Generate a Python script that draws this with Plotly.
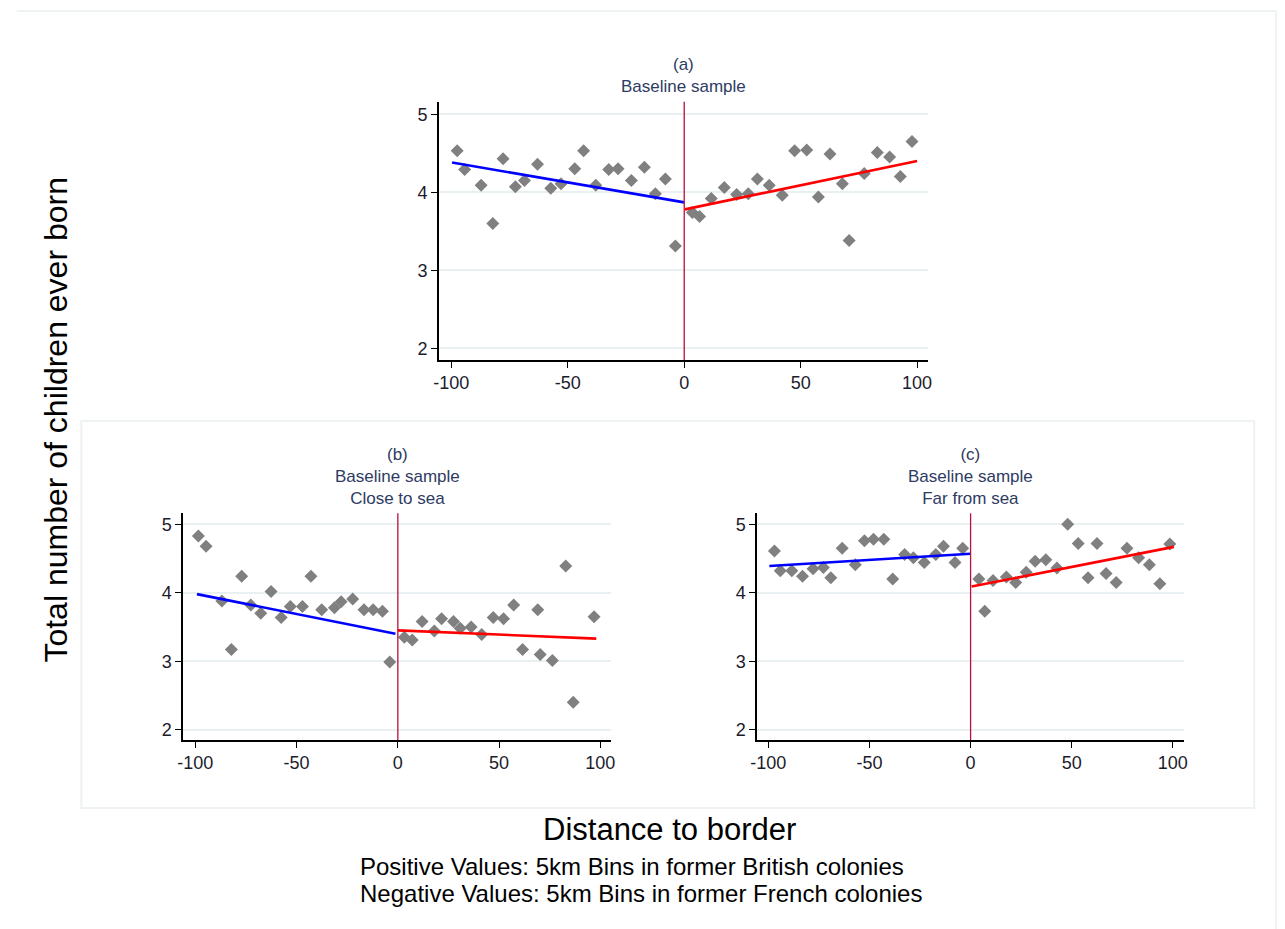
import plotly.graph_objects as go

# ---------------- data ----------------
# Panel (a) Baseline sample
a_left_x = [-97.5, -94.3, -87.2, -82.2, -77.8, -72.5, -68.6, -63.0, -57.3, -52.9,
            -47.0, -43.2, -38.0, -32.4, -28.4, -22.7, -17.1, -12.4, -8.1, -3.8]
a_left_y = [4.53, 4.29, 4.09, 3.60, 4.43, 4.07, 4.15, 4.36, 4.05, 4.11,
            4.30, 4.53, 4.09, 4.29, 4.30, 4.15, 4.32, 3.98, 4.17, 3.31]
a_right_x = [3.5, 6.6, 11.6, 17.2, 22.5, 27.5, 31.4, 36.5, 42.1, 47.4,
             52.6, 57.6, 62.6, 67.9, 70.8, 77.3, 82.9, 88.2, 92.8, 97.8]
a_right_y = [3.74, 3.69, 3.92, 4.06, 3.97, 3.98, 4.17, 4.09, 3.96, 4.53,
             4.54, 3.94, 4.49, 4.11, 3.38, 4.24, 4.51, 4.45, 4.20, 4.65]
a_fit_left_x, a_fit_left_y = [-99.7, 0.0], [4.38, 3.87]
a_fit_right_x, a_fit_right_y = [0.3, 100.0], [3.78, 4.40]

# Panel (b) Close to sea
b_left_x = [-98.5, -94.7, -86.9, -82.2, -77.1, -72.6, -67.7, -62.6, -57.6, -53.1,
            -47.1, -42.9, -37.6, -31.3, -28.0, -22.3, -16.7, -12.2, -7.6, -4.0]
b_left_y = [4.83, 4.68, 3.88, 3.17, 4.24, 3.82, 3.70, 4.02, 3.64, 3.80,
            3.80, 4.24, 3.75, 3.78, 3.87, 3.91, 3.75, 3.75, 3.73, 2.99]
b_right_x = [3.2, 7.1, 12.0, 18.0, 21.6, 27.5, 30.8, 36.2, 41.4, 47.1,
             52.2, 57.2, 61.6, 69.1, 70.3, 76.3, 82.9, 86.6, 96.9]
b_right_y = [3.35, 3.31, 3.58, 3.44, 3.62, 3.58, 3.48, 3.50, 3.39, 3.64,
             3.62, 3.82, 3.17, 3.75, 3.10, 3.01, 4.39, 2.40, 3.65]
b_fit_left_x, b_fit_left_y = [-99.2, -1.2], [3.98, 3.40]
b_fit_right_x, b_fit_right_y = [0.0, 98.0], [3.45, 3.33]

# Panel (c) Far from sea
c_left_x = [-97.0, -94.1, -88.4, -83.1, -77.9, -72.8, -69.1, -63.5, -57.0, -52.5,
            -48.0, -42.9, -38.5, -32.6, -28.3, -22.9, -17.2, -13.4, -7.7, -3.9]
c_left_y = [4.61, 4.32, 4.32, 4.24, 4.35, 4.37, 4.22, 4.65, 4.41, 4.76,
            4.78, 4.78, 4.20, 4.56, 4.51, 4.44, 4.56, 4.68, 4.44, 4.65]
c_right_x = [4.1, 7.0, 11.1, 17.7, 22.3, 27.5, 31.9, 37.2, 42.7, 48.0,
             53.2, 58.1, 62.5, 67.0, 72.0, 77.3, 83.1, 88.4, 93.6, 98.5]
c_right_y = [4.20, 3.73, 4.18, 4.23, 4.15, 4.30, 4.46, 4.48, 4.36, 5.00,
             4.72, 4.22, 4.72, 4.28, 4.15, 4.65, 4.51, 4.41, 4.13, 4.71]
c_fit_left_x, c_fit_left_y = [-99.5, 0.0], [4.39, 4.57]
c_fit_right_x, c_fit_right_y = [0.5, 100.5], [4.09, 4.67]

x_ticks = [-100, -50, 0, 50, 100]
x_tick_labels = ["-100", "-50", "0", "50", "100"]
y_ticks = [2, 3, 4, 5]
y_tick_labels = ["2", "3", "4", "5"]

panel_titles = {
    "a": ["(a)", "Baseline sample"],
    "b": ["(b)", "Baseline sample", "Close to sea"],
    "c": ["(c)", "Baseline sample", "Far from sea"],
}
y_title = "Total number of children ever born"
x_title = "Distance to border"
notes = ["Positive Values: 5km Bins in former British colonies",
         "Negative Values: 5km Bins in former French colonies"]

# ---------------- layout constants ----------------
W, H = 1285, 929
FONT = "Liberation Sans, Arial, sans-serif"
MARK = "#808080"
VLINE = "#b8103c"
GRID = "#e8f0f2"
TITLE_C = "#2e3b63"
TICK_C = "#1c1c2c"


def px(x):
    return x / W


def py(y):
    return 1 - y / H


panels = [
    ("a", "", (435.5, 929), (101.7, 360), (-105.4, 104.7),
     (a_left_x, a_left_y, a_right_x, a_right_y,
      a_fit_left_x, a_fit_left_y, a_fit_right_x, a_fit_right_y),
     98),
    ("b", "2", (177.7, 609.3), (513.3, 740), (-106.0, 105.3),
     (b_left_x, b_left_y, b_right_x, b_right_y,
      b_fit_left_x, b_fit_left_y, b_fit_right_x, b_fit_right_y),
     510),
    ("c", "3", (756.7, 1186.7), (513.3, 740), (-105.5, 105.3),
     (c_left_x, c_left_y, c_right_x, c_right_y,
      c_fit_left_x, c_fit_left_y, c_fit_right_x, c_fit_right_y),
     510),
]

fig = go.Figure()
annotations = []
shapes = []
layout_axes = {}

for key, sfx, xd, yd, xr, data, title_bottom in panels:
    lx, ly, rx, ry, flx, fly, frx, fry = data
    xa = "x" + sfx
    ya = "y" + sfx
    for xs, ys in ((lx, ly), (rx, ry)):
        fig.add_trace(go.Scatter(x=xs, y=ys, mode="markers", xaxis=xa, yaxis=ya,
                                 marker=dict(symbol="diamond", size=10, color=MARK),
                                 showlegend=False, hoverinfo="x+y"))
    fig.add_trace(go.Scatter(x=flx, y=fly, mode="lines", xaxis=xa, yaxis=ya,
                             line=dict(color="#0000ff", width=2.6), showlegend=False))
    fig.add_trace(go.Scatter(x=frx, y=fry, mode="lines", xaxis=xa, yaxis=ya,
                             line=dict(color="#ff0000", width=2.6), showlegend=False))

    layout_axes["xaxis" + sfx] = dict(
        domain=[px(xd[0]), px(xd[1])], range=list(xr), anchor=ya,
        tickvals=x_ticks, ticktext=x_tick_labels, ticks="outside", ticklen=6,
        tickwidth=1, tickcolor="black",
        showline=True, linecolor="black", linewidth=1.5, showgrid=False, zeroline=False,
        tickfont=dict(family=FONT, size=18, color=TICK_C),
    )
    layout_axes["yaxis" + sfx] = dict(
        domain=[py(yd[1]), py(yd[0])], range=[1.85, 5.16], anchor=xa,
        tickvals=y_ticks, ticktext=y_tick_labels, ticks="outside", ticklen=6,
        tickwidth=1, tickcolor="black",
        showline=True, linecolor="black", linewidth=1.5, showgrid=True,
        gridcolor=GRID, gridwidth=1.5, zeroline=False,
        tickfont=dict(family=FONT, size=18, color=TICK_C),
    )
    shapes.append(dict(type="line", xref=xa, yref=ya + " domain", x0=0, x1=0, y0=0, y1=1,
                       line=dict(color=VLINE, width=1.3), layer="above"))
    cx = px((xd[0] + xd[1]) / 2)
    annotations.append(dict(text="<br>".join(panel_titles[key]), x=cx, y=py(title_bottom),
                            xref="paper", yref="paper", xanchor="center", yanchor="bottom",
                            align="center", showarrow=False,
                            font=dict(family=FONT, size=17, color=TITLE_C)))

# boxes
shapes.append(dict(type="rect", xref="paper", yref="paper",
                   x0=px(75), x1=px(1258), y0=py(808), y1=py(421),
                   line=dict(color="#edf2f3", width=2), layer="below"))
shapes.append(dict(type="line", xref="paper", yref="paper",
                   x0=px(10), x1=px(1280), y0=py(11), y1=py(11),
                   line=dict(color="#edf2f3", width=2), layer="below"))
shapes.append(dict(type="line", xref="paper", yref="paper",
                   x0=px(1280), x1=px(1280), y0=py(11), y1=0,
                   line=dict(color="#edf2f3", width=2), layer="below"))

annotations.append(dict(text=y_title, x=px(49), y=py(420), xref="paper", yref="paper",
                        textangle=-90, showarrow=False, xanchor="center", yanchor="middle",
                        font=dict(family=FONT, size=32, color="black")))
annotations.append(dict(text=x_title, x=px(668), y=py(829), xref="paper", yref="paper",
                        showarrow=False, xanchor="center", yanchor="middle",
                        font=dict(family=FONT, size=31, color="black")))
for text, ty in zip(notes, [866, 893]):
    annotations.append(dict(text=text, x=px(354), y=py(ty), xref="paper", yref="paper",
                            showarrow=False, xanchor="left", yanchor="middle",
                            font=dict(family=FONT, size=24, color="black")))

fig.update_layout(
    width=W, height=H, margin=dict(l=0, r=0, t=0, b=0),
    paper_bgcolor="white", plot_bgcolor="white",
    showlegend=False, annotations=annotations, shapes=shapes,
    **layout_axes,
)

fig.write_html("out.html")
